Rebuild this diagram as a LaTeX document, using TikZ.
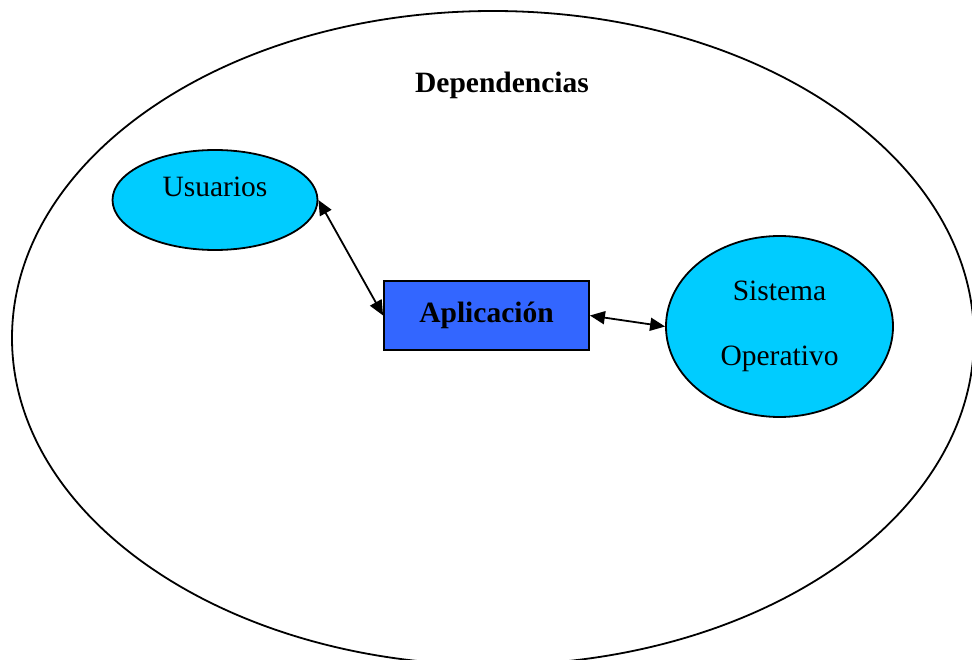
\documentclass[tikz,border=0pt]{standalone}
\usepackage{fontspec}
\setmainfont{Liberation Serif}
\usepackage{tikz}
\usetikzlibrary{positioning,arrows.meta,shapes.geometric}

\definecolor{cielo}{HTML}{00CCFF}
\definecolor{azul}{HTML}{3366FF}

\begin{document}
\begin{tikzpicture}[x=1pt, y=-1pt,
    bigtxt/.style={font=\fontsize{29.5}{65}\selectfont},
    blob/.style={ellipse, draw, line width=1.8pt, fill=cielo, inner sep=0pt,
                 align=center, bigtxt},
    appbox/.style={draw, line width=1.8pt, fill=azul, inner sep=0pt,
                   minimum width=205pt, minimum height=69pt,
                   font=\fontsize{29.5}{34}\selectfont\bfseries},
    dep/.style={{Triangle[length=15pt,width=13pt]}-{Triangle[length=15pt,width=13pt]},
                line width=1.8pt},
    ]
  \useasboundingbox (0,0) rectangle (972,660);
  \clip (0,0) rectangle (972,660);
  \node[ellipse, draw, line width=1.8pt, minimum width=962pt, minimum height=654pt]
    (outer) at (493,338) {};
  \node[font=\fontsize{29.5}{34}\selectfont\bfseries] (title) at (502,85) {Dependencias};
  \node[blob, minimum width=205pt, minimum height=100pt,
        text height=21pt, text depth=28pt] (usu) at (215,200) {Usuarios};
  \node[appbox] (app) at (486.5,315.5) {Aplicación};
  \node[blob, minimum width=227pt, minimum height=181pt] (so) at (779.5,326.5)
    {Sistema\\Operativo};
  \draw[dep] (usu.east) -- (app.west);
  \draw[dep] (app.east) -- (so.west);
\end{tikzpicture}
\end{document}
